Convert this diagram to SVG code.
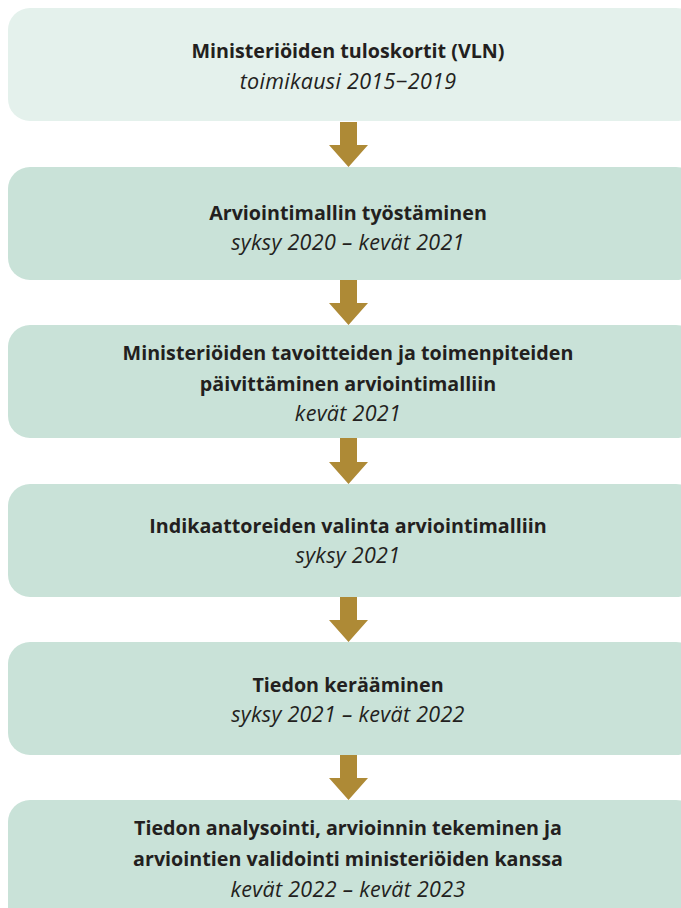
<svg xmlns="http://www.w3.org/2000/svg" width="681" height="908" viewBox="0 0 681 908">
<style>
.box{fill:#c9e2d8}
.box1{fill:#e4f1ec}
.t{font-family:"Open Sans",Lato,sans-serif;font-size:19.7px;font-weight:bold;fill:#231f20;text-anchor:middle}
.s{font-family:"Open Sans",Lato,sans-serif;font-size:21.5px;letter-spacing:0.3px;font-style:italic;fill:#231f20;text-anchor:middle}
.arr{fill:#ae8a36}
</style>
<rect width="681" height="908" fill="#ffffff"/>
<g id="node1"><rect class="box1" x="8" y="8" width="690" height="113" rx="22"/>
<text class="t" x="348" y="58">Ministeriöiden tuloskortit (VLN)</text>
<text class="s" x="348" y="89">toimikausi 2015−2019</text></g>
<g id="node2"><rect class="box" x="8" y="167" width="690" height="113" rx="22"/>
<text class="t" x="348" y="220">Arviointimallin työstäminen</text>
<text class="s" x="348" y="250">syksy 2020 – kevät 2021</text></g>
<g id="node3"><rect class="box" x="8" y="325" width="690" height="113" rx="22"/>
<text class="t" x="348" y="360">Ministeriöiden tavoitteiden ja toimenpiteiden</text>
<text class="t" x="348" y="391">päivittäminen arviointimalliin</text>
<text class="s" x="348" y="421">kevät 2021</text></g>
<g id="node4"><rect class="box" x="8" y="484" width="690" height="113" rx="22"/>
<text class="t" x="348" y="533">Indikaattoreiden valinta arviointimalliin</text>
<text class="s" x="348" y="563">syksy 2021</text></g>
<g id="node5"><rect class="box" x="8" y="642" width="690" height="113" rx="22"/>
<text class="t" x="348" y="692">Tiedon kerääminen</text>
<text class="s" x="348" y="722">syksy 2021 – kevät 2022</text></g>
<g id="node6"><rect class="box" x="8" y="800" width="690" height="140" rx="22"/>
<text class="t" x="348" y="835">Tiedon analysointi, arvioinnin tekeminen ja</text>
<text class="t" x="348" y="866">arviointien validointi ministeriöiden kanssa</text>
<text class="s" x="348" y="897">kevät 2022 – kevät 2023</text></g>
<g id="connectors">
<path class="arr" d="M340,122 H357 V145 H368 L348.5,167 L329,145 H340 Z"/>
<path class="arr" d="M340,280 H357 V303 H368 L348.5,325 L329,303 H340 Z"/>
<path class="arr" d="M340,438 H357 V462 H368 L348.5,484 L329,462 H340 Z"/>
<path class="arr" d="M340,597 H357 V620 H368 L348.5,642 L329,620 H340 Z"/>
<path class="arr" d="M340,755 H357 V778 H368 L348.5,800 L329,778 H340 Z"/>
</g>
</svg>
